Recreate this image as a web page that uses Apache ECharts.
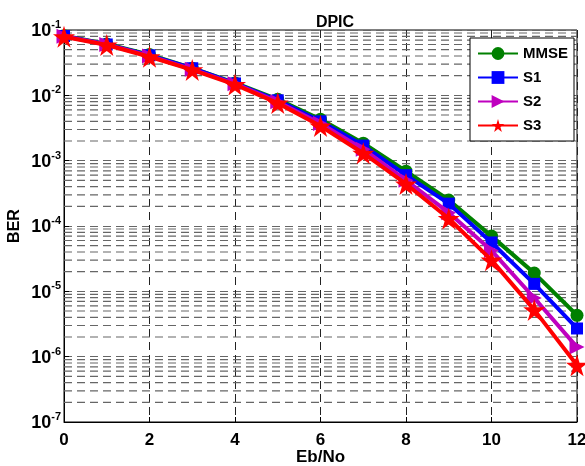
<!DOCTYPE html>
<html>
<head>
<meta charset="utf-8">
<script src="https://cdn.jsdelivr.net/npm/echarts@6/dist/echarts.min.js"></script>
<style>html,body{margin:0;padding:0;background:#fff;}#c{width:585px;height:466px;}</style>
</head>
<body>
<div id="c"></div>
<script>
const ebno = [0,1,2,3,4,5,6,7,8,9,10,11,12];
const mmse = [0.082,0.061,0.042,0.026,0.0155,0.0087,0.0043,0.00185,0.00069,0.00025,0.00007,0.000019,0.0000043];
const s1   = [0.081,0.060,0.041,0.026,0.0152,0.0084,0.0040,0.0017,0.00060,0.00022,0.000056,0.000013,0.0000027];
const s2   = [0.080,0.060,0.040,0.025,0.0150,0.0080,0.0037,0.0015,0.00050,0.00016,0.000042,0.0000079,0.0000014];
const s3   = [0.079,0.059,0.039,0.0245,0.0146,0.0076,0.0034,0.0013,0.00044,0.00013,0.000030,0.0000052,0.00000074];
const xTicks = [0,2,4,6,8,10,12];
const decades = [-7,-6,-5,-4,-3,-2,-1];
const minorMults = [2,3,4,5,6,7,8,9];

const FONT = '"Liberation Sans", Arial, sans-serif';
const STAR = 'path://M50,0 L61,35 L98,35 L68,57 L79,91 L50,70 L21,91 L32,57 L2,35 L39,35 Z';

const minorValues = [];
decades.slice(0, -1).forEach(function (d) {
  minorMults.forEach(function (m) { minorValues.push([m * Math.pow(10, d)]); });
});

function pts(arr) { return ebno.map(function (x, i) { return [x, arr[i]]; }); }

const chart = echarts.init(document.getElementById('c'), null, { renderer: 'canvas' });
chart.setOption({
  animation: false,
  backgroundColor: '#fff',
  title: {
    text: 'DPIC', left: 330, top: 10, textAlign: 'center',
    textStyle: { fontFamily: FONT, fontWeight: 'bold', fontSize: 16, color: '#000' }
  },
  grid: { left: 64, right: 8, top: 30, bottom: 44, show: true, borderColor: '#000', borderWidth: 1,
    backgroundColor: 'transparent', containLabel: false, outerBoundsMode: 'none' },
  legend: {
    orient: 'vertical', right: 11, top: 38,
    backgroundColor: '#fff', borderColor: '#000', borderWidth: 1,
    padding: [8, 6, 8, 7], itemGap: 9, itemWidth: 40, itemHeight: 16,
    textStyle: { fontFamily: FONT, fontWeight: 'bold', fontSize: 15, color: '#000' },
    data: ['MMSE', 'S1', 'S2', 'S3']
  },
  xAxis: {
    type: 'value', min: 0, max: 12, interval: 2,
    name: 'Eb/No', nameLocation: 'middle', nameGap: 27, nameMoveOverlap: false,
    nameTextStyle: { fontFamily: FONT, fontWeight: 'bold', fontSize: 17, color: '#000' },
    axisLine: { lineStyle: { color: '#000', width: 1 } },
    axisTick: { inside: true, length: 5, lineStyle: { color: '#000' } },
    axisLabel: { fontFamily: FONT, fontWeight: 'bold', fontSize: 17, color: '#000', margin: 10,
      formatter: function (v) { return xTicks.indexOf(v) >= 0 ? String(v) : ''; } },
    splitLine: { show: true, lineStyle: { color: '#222', type: [8, 5], width: 1 } }
  },
  yAxis: {
    type: 'log', logBase: 10, min: 1e-7, max: 1e-1,
    name: 'BER', nameLocation: 'middle', nameGap: 41, nameRotate: 90, nameMoveOverlap: false,
    nameTextStyle: { fontFamily: FONT, fontWeight: 'bold', fontSize: 16, color: '#000' },
    axisLine: { lineStyle: { color: '#000', width: 1 } },
    axisTick: { inside: true, length: 5, lineStyle: { color: '#000' } },
    axisLabel: {
      margin: 3,
      formatter: function (v) {
        const e = Math.round(Math.log10(v));
        return '{b|10}{s|' + e + '}';
      },
      rich: {
        b: { fontFamily: FONT, fontWeight: 'bold', fontSize: 18, color: '#000', verticalAlign: 'bottom' },
        s: { fontFamily: FONT, fontWeight: 'bold', fontSize: 11, color: '#000', verticalAlign: 'top', padding: [0, 0, 10, 0] }
      }
    },
    splitLine: { show: true, lineStyle: { color: '#666', type: [8, 5], width: 1.2 } }
  },
  series: [
    {
      name: 'grid-minor', type: 'custom', silent: true, z: 1,
      data: minorValues,
      encode: { y: 0 },
      renderItem: function (params, api) {
        const v = api.value(0);
        const p1 = api.coord([0, v]);
        const p2 = api.coord([12, v]);
        return {
          type: 'line',
          shape: { x1: p1[0], y1: p1[1], x2: p2[0], y2: p2[1] },
          style: { stroke: '#666', lineWidth: 1.2, lineDash: [8, 5] }
        };
      }
    },
    { name: 'MMSE', type: 'line', data: pts(mmse), color: '#008000',
      lineStyle: { width: 4 }, symbol: 'circle', symbolSize: 13, z: 3 },
    { name: 'S1', type: 'line', data: pts(s1), color: '#0000ff',
      lineStyle: { width: 4 }, symbol: 'rect', symbolSize: 12, z: 4 },
    { name: 'S2', type: 'line', data: pts(s2), color: '#bf00bf',
      lineStyle: { width: 4 }, symbol: 'triangle', symbolRotate: -90, symbolSize: 15, z: 5 },
    { name: 'S3', type: 'line', data: pts(s3), color: '#ff0000',
      lineStyle: { width: 4 }, symbol: STAR, symbolSize: 22, z: 6 }
  ]
});
</script>
</body>
</html>
